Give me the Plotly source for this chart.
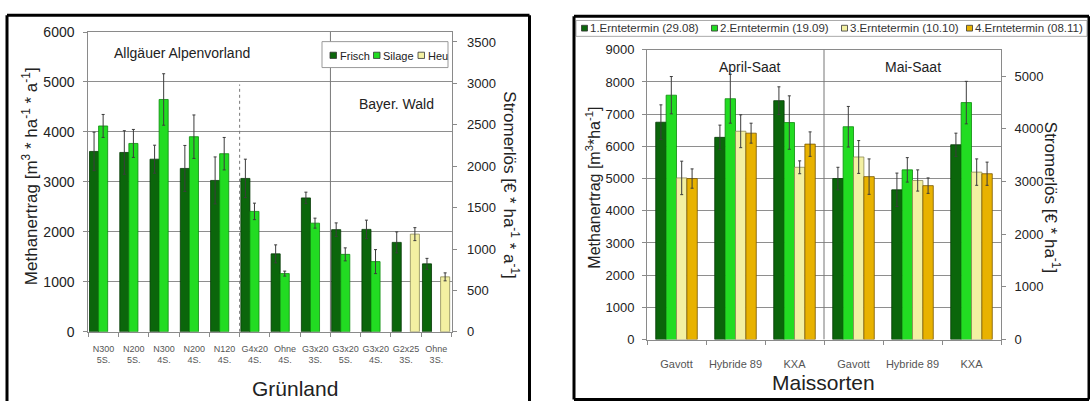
import plotly.graph_objects as go

W, H = 1090, 409
FONT = "Liberation Sans, Arial, sans-serif"

# ---------------- Grünland (left panel) ----------------
gl_categories = ["N300<br>5S.", "N200<br>5S.", "N300<br>4S.", "N200<br>4S.", "N120<br>4S.",
                 "G4x20<br>4S.", "Ohne<br>4S.", "G3x20<br>3S.", "G3x20<br>5S.", "G3x20<br>4S.",
                 "G2x25<br>3S.", "Ohne<br>3S."]
gl_frisch = [3610, 3590, 3455, 3270, 3030, 3070, 1560, 2680, 2045, 2050, 1790, 1360]
gl_frisch_err = [385, 435, 280, 460, 470, 385, 180, 115, 135, 185, 210, 110]
gl_silage = [4120, 3770, 4650, 3905, 3565, 2410, 1165, 2175, 1550, 1405, None, None]
gl_silage_err = [230, 280, 515, 435, 325, 165, 50, 100, 130, 240, None, None]
gl_heu = [None, None, None, None, None, None, None, None, None, None, 1955, 1100]
gl_heu_err = [None, None, None, None, None, None, None, None, None, None, 130, 80]
gl_series = ["Frisch", "Silage", "Heu"]
gl_regions = ["Allgäuer Alpenvorland", "Bayer. Wald"]

# ---------------- Maissorten (right panel) ----------------
ms_categories = ["Gavott", "Hybride 89", "KXA", "Gavott", "Hybride 89", "KXA"]
ms_groups = ["April-Saat", "Mai-Saat"]
ms_series = ["1.Erntetermin (29.08)", "2.Erntetermin (19.09)",
             "3.Erntetermin (10.10)", "4.Erntetermin (08.11)"]
ms_t1 = [6750, 6280, 7420, 5000, 4650, 6050]
ms_t1_err = [540, 380, 430, 350, 520, 360]
ms_t2 = [7590, 7480, 6740, 6610, 5270, 7360]
ms_t2_err = [580, 760, 830, 630, 380, 660]
ms_t3 = [5020, 6470, 5350, 5670, 4940, 5200]
ms_t3_err = [520, 510, 200, 510, 330, 410]
ms_t4 = [5000, 6410, 6070, 5060, 4780, 5150]
ms_t4_err = [300, 310, 380, 550, 240, 360]

C_DARK = "#0b660b"
C_BRIGHT = "#22dc22"
C_PALE = "#f3f0a2"
C_GOLD = "#e8b200"
EDGE = {C_DARK: "#053805", C_BRIGHT: "#0d8a0d", C_PALE: "#8d8a55", C_GOLD: "#7a5800"}
GRID = "#8e8e8e"
AXIS = "#8a8a8a"


def px(x):
    return x / W


def py(y):
    return 1 - y / H


def bars(name, x, y, err, color, width, offset, xa, ya):
    return go.Bar(
        name=name, x=x, y=y, xaxis=xa, yaxis=ya, width=width, offset=offset,
        marker=dict(color=color, line=dict(color=EDGE[color], width=0.8)),
        error_y=dict(type="data", array=err, symmetric=True, color="#3c3c3c",
                     thickness=1, width=1.5),
        showlegend=False, hoverinfo="x+y",
    )


fig = go.Figure()

gl_data = [(gl_frisch, gl_frisch_err, C_DARK), (gl_silage, gl_silage_err, C_BRIGHT),
           (gl_heu, gl_heu_err, C_PALE)]
for k, (name, (vals, err, col)) in enumerate(zip(gl_series, gl_data)):
    fig.add_trace(bars(name, gl_categories, vals, err, col, 0.3, -0.46 + 0.3 * k, "x", "y"))

ms_x = list(range(len(ms_categories)))
ms_data = [(ms_t1, ms_t1_err, C_DARK), (ms_t2, ms_t2_err, C_BRIGHT),
           (ms_t3, ms_t3_err, C_PALE), (ms_t4, ms_t4_err, C_GOLD)]
for k, (name, (vals, err, col)) in enumerate(zip(ms_series, ms_data)):
    fig.add_trace(bars(name, ms_x, vals, err, col, 0.176, -0.352 + 0.176 * k, "x2", "y2"))

# empty traces so the secondary (Stromerlös) axes are drawn
fig.add_trace(go.Scatter(x=[], y=[], xaxis="x", yaxis="y3", showlegend=False))
fig.add_trace(go.Scatter(x=[], y=[], xaxis="x2", yaxis="y4", showlegend=False))

tick_font = dict(family=FONT, size=13, color="#222")
common_y = dict(showgrid=True, gridcolor=GRID, gridwidth=1, zeroline=False,
                ticks="outside", ticklen=4, tickcolor=AXIS, showline=True,
                linecolor=AXIS, linewidth=1, mirror=True, tickfont=tick_font)
sec_y = dict(showgrid=False, zeroline=False, ticks="outside", ticklen=4, tickcolor=AXIS,
             showline=True, linecolor=AXIS, linewidth=1, tickfont=tick_font)

fig.update_layout(
    width=W, height=H, margin=dict(l=0, r=0, t=0, b=0),
    paper_bgcolor="white", plot_bgcolor="white", barmode="group",
    font=dict(family=FONT, color="#222"), showlegend=False,
    xaxis=dict(domain=[px(88.3), px(451.5)], anchor="y", type="category",
               categoryorder="array", categoryarray=gl_categories, range=[-0.5, 11.5],
               tickson="boundaries", ticks="outside", ticklen=4, tickcolor=AXIS,
               showline=True, linecolor=AXIS, mirror=True, showgrid=False, tickangle=0,
               tickfont=dict(family=FONT, size=9, color="#555"), ticklabelstandoff=8),
    yaxis=dict(domain=[py(337), py(25)], anchor="x", range=[0, 6000], dtick=1000,
               ticklabelstandoff=6, **{**common_y, "tickfont": dict(family=FONT, size=14, color="#222")}),
    yaxis3=dict(overlaying="y", side="right", anchor="x", range=[0, 3620], dtick=500,
                ticklabelstandoff=8, **sec_y),
    xaxis2=dict(domain=[px(647), px(1001)], anchor="y2", range=[-0.5, 5.5],
                tickvals=ms_x, ticktext=ms_categories, ticks="", tickangle=0,
                minor=dict(tickvals=[i - 0.5 for i in range(len(ms_categories) + 1)],
                           ticks="outside", ticklen=4, tickcolor=AXIS, showgrid=False),
                showline=True, linecolor=AXIS, mirror=True, showgrid=False, zeroline=False,
                tickfont=dict(family=FONT, size=11, color="#555"), ticklabelstandoff=14),
    yaxis2=dict(domain=[py(345), py(43.5)], anchor="x2", range=[0, 9000], dtick=1000,
                ticklabelstandoff=5, **common_y),
    yaxis4=dict(overlaying="y2", side="right", anchor="x2", range=[0, 5500], dtick=1000,
                ticklabelstandoff=6, **sec_y),
)

shapes = []
# region dividers
shapes.append(dict(type="line", xref="x", yref="y", x0=4.5, x1=4.5, y0=0, y1=4950,
                   line=dict(color="#777", width=1, dash="dot")))
shapes.append(dict(type="line", xref="x", yref="y", x0=7.5, x1=7.5, y0=0, y1=6000,
                   line=dict(color="#777", width=1)))
shapes.append(dict(type="line", xref="x2", yref="y2", x0=2.5, x1=2.5, y0=0, y1=9000,
                   line=dict(color="#777", width=1)))

annotations = []
# left panel legend
shapes.append(dict(type="rect", xref="paper", yref="paper", x0=px(322), x1=px(448),
                   y0=py(35), y1=py(62), line=dict(color="#999", width=1), fillcolor="white"))
gl_leg_x = [330, 373.5, 418]
for name, (_, _, col), lx in zip(gl_series, gl_data, gl_leg_x):
    shapes.append(dict(type="rect", xref="paper", yref="paper", x0=px(lx), x1=px(lx + 6.5),
                       y0=py(52.5), y1=py(46), fillcolor=col, line=dict(color="#333", width=0.8)))
    annotations.append(dict(x=px(lx + 7.5), y=py(49.5), xref="paper", yref="paper", text=name,
                            showarrow=False, xanchor="left", yanchor="middle",
                            font=dict(family=FONT, size=11, color="#222")))

# right panel legend
shapes.append(dict(type="rect", xref="paper", yref="paper", x0=px(576), x1=px(1087),
                   y0=py(13), y1=py(29.5), line=dict(color="#aaa", width=1), fillcolor="white"))
ms_leg_x = [581.5, 711.5, 841.5, 966.5]
for name, (_, _, col), lx in zip(ms_series, ms_data, ms_leg_x):
    shapes.append(dict(type="rect", xref="paper", yref="paper", x0=px(lx), x1=px(lx + 6),
                       y0=py(24), y1=py(18), fillcolor=col, line=dict(color="#333", width=0.8)))
    annotations.append(dict(x=px(lx + 6.5), y=py(21), xref="paper", yref="paper", text=name,
                            showarrow=False, xanchor="left", yanchor="middle",
                            font=dict(family=FONT, size=11.5, color="#333")))

# panel frames
frame = dict(color="black", width=3)
for x0, y0, x1, y1 in [(7, 7.5, 529.5, 7.5), (7, 7.5, 7, 409), (529.5, 7.5, 529.5, 409),
                       (574, 8.5, 1089, 8.5), (574, 8.5, 574, 407.5),
                       (574, 407.5, 1089, 407.5), (1089, 8.5, 1089, 407.5)]:
    shapes.append(dict(type="line", xref="paper", yref="paper", x0=px(x0), x1=px(x1),
                       y0=py(y0), y1=py(y1), line=frame))


def label(text, x, y, size, angle=0, color="#222"):
    annotations.append(dict(x=px(x), y=py(y), xref="paper", yref="paper", text=text,
                            showarrow=False, textangle=angle, xanchor="center",
                            yanchor="middle", font=dict(family=FONT, size=size, color=color)))


label(gl_regions[0], 181.5, 46.5, 14)
label(gl_regions[1], 396.5, 100, 14)
label(ms_groups[0], 750, 61.5, 14)
label(ms_groups[1], 913, 61, 14)

label("Grünland", 295, 396, 21)
label("Maissorten", 823, 390, 21)
label("Methanertrag [m<sup>3</sup> * ha<sup>-1</sup> * a<sup>-1</sup>]", 30, 175, 17, -90)
label("Stromerlös [€ * ha<sup>-1</sup> * a<sup>-1</sup>]", 511.5, 184, 17, 90)
label("Methanertrag [m<sup>3</sup>*ha<sup>-1</sup>]", 593, 187, 16, -90)
label("Stromerlös [€ * ha<sup>-1</sup>]", 1051.5, 197, 17, 90)

fig.update_layout(shapes=shapes, annotations=annotations)
fig.write_html("out.html")
